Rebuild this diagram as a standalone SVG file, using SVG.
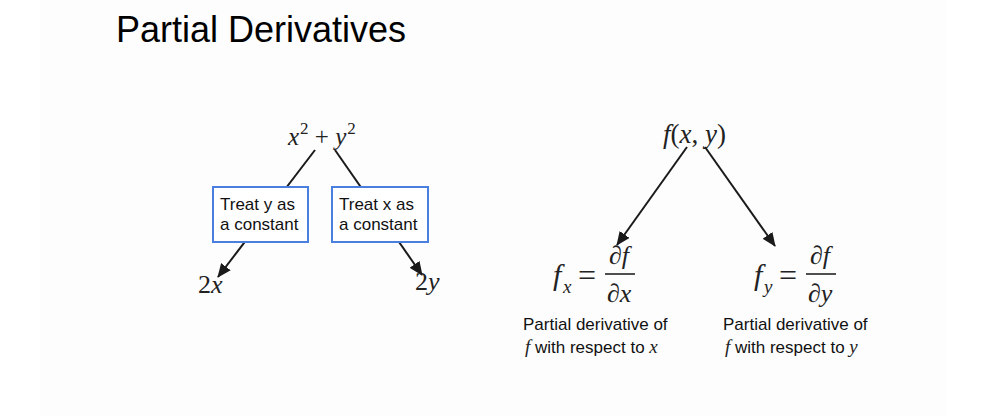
<svg xmlns="http://www.w3.org/2000/svg" width="1006" height="416" viewBox="0 0 1006 416">
<style>
.title{font-family:"Liberation Sans",Arial,sans-serif;font-size:36px;fill:#000}
.lbl{font-family:"Liberation Sans",Arial,sans-serif;font-size:17px;fill:#111}
.m{font-family:"Liberation Serif","Times New Roman",serif;font-style:italic;fill:#222}
.mr{font-family:"Liberation Serif","Times New Roman",serif;font-style:normal;fill:#222}
.box{fill:#fff;stroke:#4a7fe0;stroke-width:2}
.conn{stroke:#1a1a1a;stroke-width:2;fill:none;marker-end:url(#ah)}
</style>
<defs>
<marker id="ah" markerUnits="userSpaceOnUse" markerWidth="14" markerHeight="12" refX="13" refY="6" orient="auto">
<path d="M0,0 L14,6 L0,12 z" fill="#1a1a1a"/>
</marker>
</defs>
<rect x="0" y="0" width="1006" height="416" fill="#fff"/>
<rect x="40" y="0" width="906" height="416" fill="#fdfdfd"/>
<text class="title" x="116" y="42">Partial Derivatives</text>

<g id="connectors">
<line class="conn" x1="315" y1="150" x2="218" y2="277"/>
<line class="conn" x1="335" y1="150" x2="422" y2="275"/>
<line class="conn" x1="687" y1="147" x2="617" y2="245"/>
<line class="conn" x1="705" y1="147" x2="775" y2="246"/>
</g>

<g id="sum">
<text class="m" x="288" y="145" font-size="25">x<tspan font-size="17" dx="1" dy="-11" class="mr" font-style="normal">2</tspan><tspan dy="11" class="mr" font-style="normal"> + </tspan>y<tspan font-size="17" dx="1" dy="-11" font-style="normal">2</tspan></text>
</g>

<g id="box-y">
<rect class="box" x="213" y="187" width="95" height="55"/>
<text class="lbl" x="220" y="210">Treat y as</text>
<text class="lbl" x="220" y="230">a constant</text>
</g>
<g id="box-x">
<rect class="box" x="332" y="187" width="96" height="55"/>
<text class="lbl" x="339" y="210">Treat x as</text>
<text class="lbl" x="339" y="230">a constant</text>
</g>

<g id="res-2x">
<text class="mr" x="198" y="293" font-size="26">2<tspan font-style="italic">x</tspan></text>
</g>
<g id="res-2y">
<text class="mr" x="415" y="290" font-size="26">2<tspan font-style="italic">y</tspan></text>
</g>

<g id="func">
<text class="m" x="663" y="143" font-size="27">f<tspan font-style="normal">(</tspan>x<tspan font-style="normal">, </tspan>y<tspan font-style="normal">)</tspan></text>
</g>

<g id="fx">
<text class="m" x="553" y="285" font-size="30">f</text>
<text class="m" x="563" y="293" font-size="19">x</text>
<text class="mr" x="578" y="286" font-size="32">=</text>
<text class="m" x="609" y="264" font-size="26">∂f</text>
<line x1="605" y1="274" x2="635" y2="274" stroke="#222" stroke-width="1.6"/>
<text class="m" x="607" y="302" font-size="26">∂x</text>
<text class="lbl" x="523" y="330">Partial derivative of</text>
<text class="lbl" x="525" y="353"><tspan class="m" font-size="19">f</tspan> with respect to <tspan class="m" font-size="19">x</tspan></text>
</g>

<g id="fy">
<text class="m" x="754" y="285" font-size="30">f</text>
<text class="m" x="764" y="293" font-size="19">y</text>
<text class="mr" x="779" y="286" font-size="32">=</text>
<text class="m" x="810" y="264" font-size="26">∂f</text>
<line x1="806" y1="274" x2="836" y2="274" stroke="#222" stroke-width="1.6"/>
<text class="m" x="808" y="302" font-size="26">∂y</text>
<text class="lbl" x="723" y="330">Partial derivative of</text>
<text class="lbl" x="725" y="353"><tspan class="m" font-size="19">f</tspan> with respect to <tspan class="m" font-size="19">y</tspan></text>
</g>
</svg>
